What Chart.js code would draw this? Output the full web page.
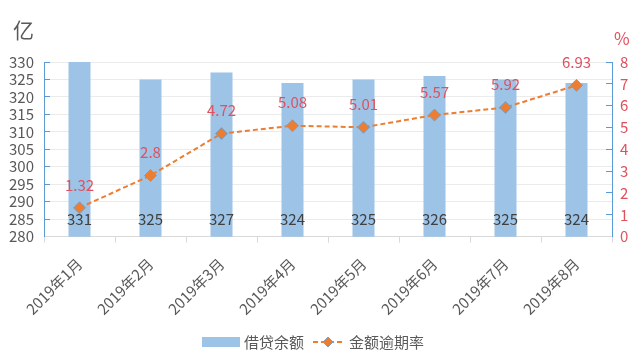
<!DOCTYPE html>
<html>
<head>
<meta charset="utf-8">
<script src="https://cdn.jsdelivr.net/npm/chart.js@4"></script>
<style>
  html, body { margin: 0; padding: 0; background: #fff; }
  #wrap { width: 640px; height: 362px; position: relative; }
</style>
</head>
<body>
<div id="wrap"><canvas id="c"></canvas></div>
<script>
// data
const months = ['2019年1月', '2019年2月', '2019年3月', '2019年4月', '2019年5月', '2019年6月', '2019年7月', '2019年8月'];
const balance = [331, 325, 327, 324, 325, 326, 325, 324];       // 借贷余额 (亿)
const overdueRate = [1.32, 2.8, 4.72, 5.08, 5.01, 5.57, 5.92, 6.93]; // 金额逾期率 (%)

const FONT = "'Noto Sans CJK SC', 'Noto Sans', sans-serif";
const BAR = '#9DC3E6';
const LINE = '#ED7D31';
const AXIS = '#5B9BD5';
const RED = '#E0505E';
const GREY = '#595959';

// value labels, unit captions and the hand-drawn legend
const extras = {
    id: 'extras',
    afterDatasetsDraw(chart) {
        const ctx = chart.ctx;
        const area = chart.chartArea;
        ctx.save();
        ctx.textAlign = 'center';
        ctx.textBaseline = 'middle';

        // bar values, near the bottom of each bar
        ctx.font = '15px ' + FONT;
        ctx.fillStyle = '#404040';
        chart.getDatasetMeta(1).data.forEach((bar, i) => {
            ctx.fillText(balance[i], bar.x, area.bottom - 17);
        });

        // rate values above the points
        ctx.fillStyle = RED;
        chart.getDatasetMeta(0).data.forEach((pt, i) => {
            ctx.fillText(overdueRate[i], pt.x, pt.y - 23);
        });

        // units
        ctx.textAlign = 'left';
        ctx.font = '21px ' + FONT;
        ctx.fillStyle = GREY;
        ctx.fillText('亿', 13, 30);
        ctx.font = '17px ' + FONT;
        ctx.fillStyle = RED;
        ctx.fillText('%', 614, 39);

        // legend
        const ly = 342;
        ctx.fillStyle = BAR;
        ctx.fillRect(202, ly - 5, 38, 10);
        ctx.font = '15px ' + FONT;
        ctx.fillStyle = GREY;
        ctx.fillText('借贷余额', 244, ly);
        ctx.strokeStyle = LINE;
        ctx.lineWidth = 2;
        ctx.setLineDash([5, 3]);
        ctx.beginPath();
        ctx.moveTo(313, ly);
        ctx.lineTo(343, ly);
        ctx.stroke();
        ctx.setLineDash([]);
        ctx.beginPath();
        ctx.moveTo(328, ly - 5);
        ctx.lineTo(333, ly);
        ctx.lineTo(328, ly + 5);
        ctx.lineTo(323, ly);
        ctx.closePath();
        ctx.fillStyle = LINE;
        ctx.fill();
        ctx.strokeStyle = '#7F9FBF';
        ctx.lineWidth = 1;
        ctx.stroke();
        ctx.fillStyle = GREY;
        ctx.fillText('金额逾期率', 349, ly);
        ctx.restore();
    }
};

new Chart(document.getElementById('c'), {
    type: 'bar',
    data: {
        labels: months,
        datasets: [
            {
                type: 'line',
                label: '金额逾期率',
                data: overdueRate,
                yAxisID: 'y1',
                borderColor: LINE,
                borderWidth: 2,
                borderDash: [5, 3],
                fill: false,
                tension: 0,
                pointStyle: 'rectRot',
                pointRadius: 6,
                pointBackgroundColor: LINE,
                pointBorderColor: '#7F9FBF',
                pointBorderWidth: 1,
                order: 0
            },
            {
                label: '借贷余额',
                data: balance,
                yAxisID: 'y',
                backgroundColor: BAR,
                barPercentage: 0.31,
                categoryPercentage: 1,
                order: 1
            }
        ]
    },
    options: {
        responsive: true,
        maintainAspectRatio: false,
        animation: false,
        layout: { padding: { top: 62, left: 6, right: 6, bottom: 32 } },
        plugins: {
            legend: { display: false },
            tooltip: { enabled: false }
        },
        scales: {
            x: {
                offset: true,
                // rotated labels should not push the plot area inward
                afterFit: (scale) => { scale.paddingLeft = 0; scale.paddingRight = 0; },
                grid: {
                    offset: true,
                    drawOnChartArea: false,
                    drawTicks: true,
                    tickLength: 6,
                    tickColor: '#D9D9D9'
                },
                border: { color: '#D9D9D9' },
                ticks: {
                    color: GREY,
                    font: { family: FONT, size: 15 },
                    maxRotation: 45,
                    minRotation: 45,
                    padding: 12
                }
            },
            y: {
                position: 'left',
                min: 280,
                max: 330,
                afterFit: (scale) => { scale.width = 38; },
                grid: {
                    color: '#EBEBEB',
                    tickColor: AXIS,
                    tickLength: -6
                },
                border: { color: AXIS },
                ticks: {
                    stepSize: 5,
                    autoSkip: false,
                    color: GREY,
                    padding: 16,
                    font: { family: FONT, size: 15, lineHeight: 1 }
                }
            },
            y1: {
                position: 'right',
                min: 0,
                max: 8,
                afterFit: (scale) => { scale.width = 22; },
                grid: {
                    drawOnChartArea: false,
                    tickColor: AXIS,
                    tickLength: -6
                },
                border: { color: AXIS },
                ticks: {
                    stepSize: 1,
                    autoSkip: false,
                    color: RED,
                    padding: 14,
                    font: { family: FONT, size: 15, lineHeight: 1 }
                }
            }
        }
    },
    plugins: [extras]
});
</script>
</body>
</html>
